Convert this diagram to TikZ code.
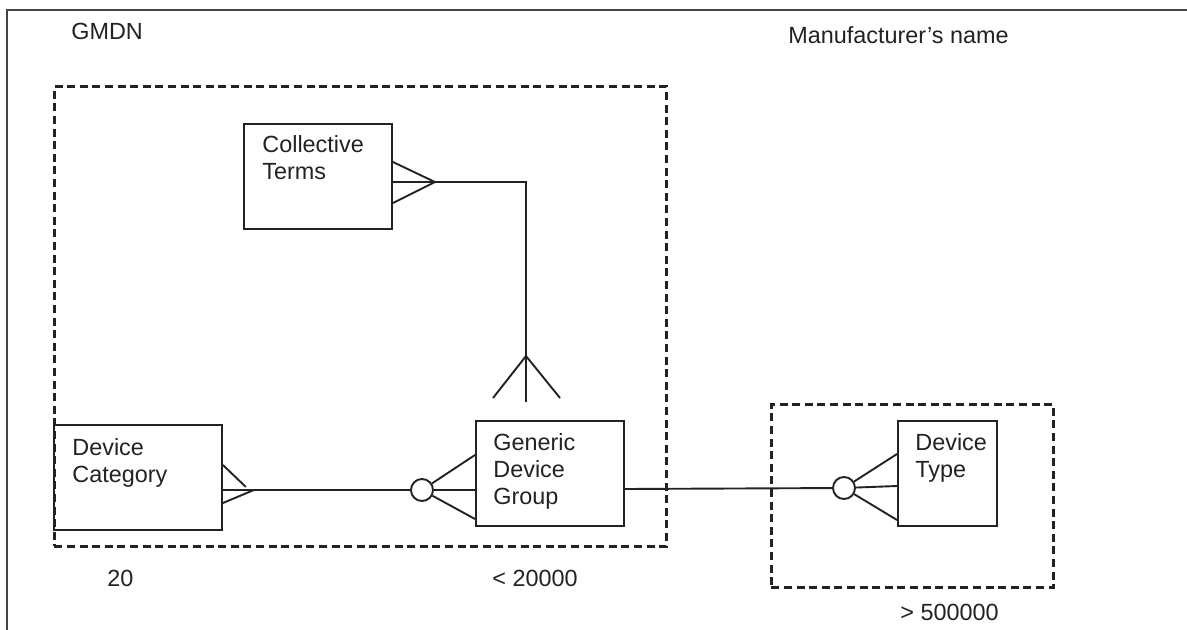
\documentclass[tikz,border=0pt]{standalone}
\usepackage{fontspec}
\setmainfont{Liberation Sans}
\usetikzlibrary{calc}
\definecolor{ink}{HTML}{222222}
\definecolor{framec}{HTML}{444444}
\tikzset{
  conn/.style={draw=ink, line width=0.95pt},
  ent/.style={draw=ink, line width=0.95pt, rectangle, inner sep=0pt, anchor=north west},
  grp/.style={draw=ink, line width=1.4pt, dash pattern=on 4pt off 2.3pt, rectangle, inner sep=0pt, anchor=north west},
  lbl/.style={text=ink, font=\fontsize{11.7}{13.5}\selectfont, inner sep=0pt, anchor=base west, align=left},
  opt/.style={circle, draw=ink, line width=0.95pt, minimum size=11pt, inner sep=0pt},
  framel/.style={draw=framec, line width=1.1pt}
}
\begin{document}
\begin{tikzpicture}[x=0.5pt,y=-0.5pt]
\useasboundingbox (0,0) rectangle (1187,630);
% outer frame
\draw[framel] (1187,10) -- (7,10) -- (7,630);
% group boxes
\node[grp, minimum width=306pt, minimum height=230pt] (gmdn) at (53,85) {};
\node[grp, minimum width=141pt, minimum height=91.5pt] (mfr) at (770,403) {};
% entities
\node[ent, minimum width=74pt, minimum height=52.5pt] (ct) at (243,123) {};
\node[ent, minimum width=84pt, minimum height=52.5pt] (dc) at (53,424) {};
\node[ent, minimum width=74pt, minimum height=52.5pt] (gdg) at (475,420) {};
\node[ent, minimum width=49.5pt, minimum height=52.5pt] (dt) at (897,420) {};
% optionality circles
\node[opt] (c1) at (422,490) {};
\node[opt] (c2) at (844,488) {};
% labels (base = baseline of last line)
\node[lbl] (tgmdn) at (71,40) {GMDN};
\node[lbl] (tmfr) at (788,44) {Manufacturer’s name};
\node[lbl] (tct) at (262,180) {Collective\\Terms};
\node[lbl] (tdc) at (72,482) {Device\\Category};
\node[lbl] (tgdg) at (493,504) {Generic\\Device\\Group};
\node[lbl] (tdt) at (915,477) {Device\\Type};
\node[lbl] (n20) at (107,586) {20};
\node[lbl] (n20000) at (492,586) {< 20000};
\node[lbl] (n500000) at (900,620) {> 500000};
% Collective Terms -- Generic Device Group
\coordinate (ctA) at ($(ct.north east)+(42,59)$);
\coordinate (gdgA) at ($(gdg.north west)+(51,-64)$);
\draw[conn] ($(ct.north east)+(0,39)$) -- (ctA) -- ($(ct.north east)+(0,80)$);
\draw[conn] ($(ct.north east)+(0,59)$) -- (ctA) -| ($(gdg.north west)+(51,-18)$);
\draw[conn] ($(gdg.north west)+(18,-22)$) -- (gdgA) -- ($(gdg.north west)+(85,-22)$);
% Device Category -- Generic Device Group
\draw[conn] ($(dc.north east)+(0,66)$) -- (c1);
\draw[conn] ($(dc.north east)+(0,41)$) -- ($(dc.north east)+(23,63)$);
\draw[conn] ($(dc.north east)+(0,79)$) -- ($(dc.north east)+(31,66)$);
\draw[conn] ($(gdg.north west)+(0,35)$) -- (c1);
\draw[conn] ($(gdg.north west)+(0,70)$) -- (c1);
\draw[conn] ($(gdg.north west)+(0,99)$) -- (c1);
% Generic Device Group -- Device Type
\draw[conn] ($(gdg.north east)+(0,69)$) -- (c2);
\draw[conn] ($(dt.north west)+(0,34)$) -- (c2);
\draw[conn] ($(dt.north west)+(0,66)$) -- (c2);
\draw[conn] ($(dt.north west)+(0,100)$) -- (c2);
\end{tikzpicture}
\end{document}
